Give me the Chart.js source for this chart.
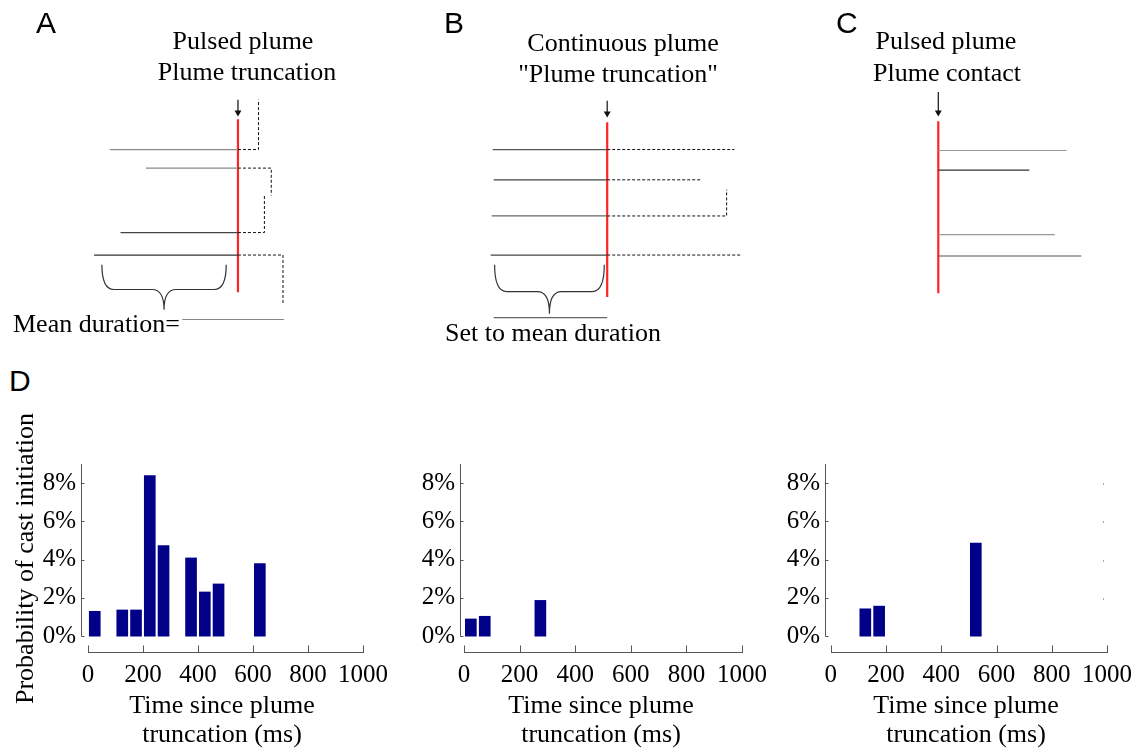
<!DOCTYPE html>
<html>
<head>
<meta charset="utf-8">
<script src="https://cdn.jsdelivr.net/npm/chart.js@4.4.1/dist/chart.umd.min.js"></script>
<style>
  body { margin: 0; background: #fff; }
  #fig { position: relative; width: 1144px; height: 752px; overflow: hidden; background: #fff; }
  canvas { position: absolute; }
  .lbl { position: absolute; font-family: "Liberation Serif", "Times New Roman", serif; font-size: 26px; line-height: 26px; white-space: nowrap; color: #000; }
  .ctr { transform: translateX(-50%); }
  .letter { position: absolute; font-family: "Liberation Sans", Arial, sans-serif; font-size: 30px; line-height: 30px; color: #000; }
</style>
</head>
<body>
<div id="fig">
  <canvas id="cA" width="380" height="345" style="left:0;top:0"></canvas>
  <canvas id="cB" width="380" height="345" style="left:380px;top:0"></canvas>
  <canvas id="cC" width="384" height="345" style="left:760px;top:0"></canvas>
  <canvas id="d1" width="400" height="352" style="left:0;top:400px"></canvas>
  <canvas id="d2" width="400" height="352" style="left:379px;top:400px"></canvas>
  <canvas id="d3" width="400" height="352" style="left:744px;top:400px"></canvas>

  <div class="letter" style="left:36px;top:8px">A</div>
  <div class="letter" style="left:444px;top:8px">B</div>
  <div class="letter" style="left:836px;top:8px">C</div>
  <div class="letter" style="left:9px;top:366px">D</div>

  <div class="lbl ctr" style="left:243px;top:28px">Pulsed plume</div>
  <div class="lbl ctr" style="left:247px;top:59px">Plume truncation</div>
  <div class="lbl" style="left:13px;top:311px">Mean duration=</div>

  <div class="lbl ctr" style="left:623px;top:30px">Continuous plume</div>
  <div class="lbl ctr" style="left:618px;top:61px">"Plume truncation"</div>
  <div class="lbl" style="left:445px;top:320px">Set to mean duration</div>

  <div class="lbl ctr" style="left:946px;top:28px">Pulsed plume</div>
  <div class="lbl ctr" style="left:947px;top:60px">Plume contact</div>
</div>

<script>
// ---- panel D: probability of cast initiation (%) per 50 ms bin ----
var binsTrunc = [25, 125, 175, 225, 275, 375, 425, 475, 625];
var probTrunc = [1.3, 1.37, 1.37, 8.4, 4.73, 4.09, 2.31, 2.73, 3.79];
var binsCont = [25, 75, 275];
var probCont = [0.9, 1.04, 1.87];
var binsContact = [125, 175, 525];
var probContact = [1.43, 1.57, 4.87];
var xTicks = [0, 200, 400, 600, 800, 1000];
var yTicks = [0, 2, 4, 6, 8];
var xTitle = ['Time since plume', 'truncation (ms)'];
var yTitle = 'Probability of cast initiation';

// ---- schematics: time relative to the event (t = 0), traces listed top to bottom ----
// A: pulsed plume, truncation
var rowsA = [149, 168, 234, 257];
var startA = [-131, -94, -120, -147];
var castEndA = [21, 34, 27, 46];
var castTurnA = [98, 196, 196, 308];
var meanA = [-57, 47];
var meanRowA = 323;
var redA = [118, 295];
var arrowA = [98, 114];
var braceA = { from: -139, to: -12, top: 267, tip: 313 };
// B: continuous plume, "truncation"
var rowsB = [149, 180, 217, 257];
var startB = [-117, -116, -118, -119];
var castEndB = [130, 95, 122, 138];
var castTurnB = [149, 180, 190, 257];
var meanB = [-116, 0];
var meanRowB = 321;
var redB = [121, 300];
var arrowB = [99, 115];
var braceB = { from: -115, to: -3, top: 267, tip: 317 };
// C: pulsed plume, contact
var rowsC = [150, 170, 236, 258];
var endC = [131, 93, 119, 146];
var redC = [120, 296];
var arrowC = [90, 114];

var greyA = ['#8a8a8a', '#8a8a8a', '#444', '#333'];
var greyB = ['#555', '#444', '#666', '#444'];
var greyC = ['#999', '#333', '#999', '#555'];

var serif = '"Liberation Serif", "Times New Roman", serif';
var tickFont = { family: serif, size: 25 };
var titleFont = { family: serif, size: 26, lineHeight: 1.12 };

var bracePlugin = {
  id: 'brace',
  afterDatasetsDraw: function (chart, args, opts) {
    if (opts.from === undefined) return;
    var xs = chart.scales.x, ys = chart.scales.y, ctx = chart.ctx;
    var x1 = xs.getPixelForValue(opts.from), x2 = xs.getPixelForValue(opts.to);
    var xm = (x1 + x2) / 2;
    var y0 = ys.getPixelForValue(opts.top), yt = ys.getPixelForValue(opts.tip);
    var d = (yt - y0) * 0.55, q = 12;
    ctx.save();
    ctx.strokeStyle = '#333';
    ctx.lineWidth = 1.2;
    ctx.beginPath();
    ctx.moveTo(x1, y0); ctx.quadraticCurveTo(x1, y0 + d, x1 + q, y0 + d);
    ctx.lineTo(xm - q, y0 + d); ctx.quadraticCurveTo(xm, y0 + d, xm, yt);
    ctx.moveTo(x2, y0); ctx.quadraticCurveTo(x2, y0 + d, x2 - q, y0 + d);
    ctx.lineTo(xm + q, y0 + d); ctx.quadraticCurveTo(xm, y0 + d, xm, yt);
    ctx.stroke();
    ctx.restore();
  }
};

// matlab-like axes: y line stops at 0, x line sits below with inward ticks
var axisPlugin = {
  id: 'matAxes',
  afterDraw: function (chart, args, opts) {
    if (!opts.on) return;
    var xs = chart.scales.x, ys = chart.scales.y, ctx = chart.ctx, a = chart.chartArea;
    ctx.save();
    ctx.strokeStyle = '#555';
    ctx.lineWidth = 1;
    ctx.beginPath();
    var lx = Math.round(a.left) + 0.5;
    var y0 = Math.round(ys.getPixelForValue(0)) + 0.5;
    ctx.moveTo(lx, a.top); ctx.lineTo(lx, y0);
    yTicks.forEach(function (v) {
      var y = Math.round(ys.getPixelForValue(v)) + 0.5;
      ctx.moveTo(lx, y); ctx.lineTo(lx + 3, y);
    });
    var by = Math.round(a.bottom) - 0.5;
    ctx.moveTo(Math.round(xs.getPixelForValue(0)), by);
    ctx.lineTo(Math.round(xs.getPixelForValue(1000)) + 1, by);
    xTicks.forEach(function (v) {
      var x = Math.round(xs.getPixelForValue(v)) + 0.5;
      ctx.moveTo(x, by); ctx.lineTo(x, by - 7);
    });
    ctx.stroke();
    if (opts.rightDots) {
      ctx.fillStyle = '#aaa';
      yTicks.slice(1).forEach(function (v) {
        ctx.fillRect(Math.round(xs.getPixelForValue(985)), Math.round(ys.getPixelForValue(v)), 1, 2);
      });
    }
    ctx.restore();
  }
};

Chart.register(bracePlugin, axisPlugin);

function seg(points, color, width, dash) {
  return { data: points, showLine: true, borderColor: color, borderWidth: width,
           borderDash: dash || [], pointRadius: 0, fill: false, tension: 0 };
}

function arrow(y) {
  return [
    seg([{ x: 0, y: y[0] }, { x: 0, y: y[1] - 3 }], '#111', 1.2),
    { data: [{ x: 0, y: y[1] - 3 }], showLine: false, pointStyle: 'triangle', rotation: 180,
      pointRadius: 4, backgroundColor: '#111', borderColor: '#111', borderWidth: 0 }
  ];
}

function schematic(id, xMin, xMax, datasets, brace) {
  return new Chart(document.getElementById(id), {
    type: 'scatter',
    data: { datasets: datasets },
    options: {
      responsive: false, animation: false, devicePixelRatio: 1,
      layout: { padding: 0 },
      plugins: { legend: { display: false }, tooltip: { enabled: false }, brace: brace || {} },
      scales: {
        x: { type: 'linear', display: false, min: xMin, max: xMax },
        y: { type: 'linear', display: false, min: 0, max: 345, reverse: true }
      }
    }
  });
}

// panel A
var dsA = [];
rowsA.forEach(function (r, i) {
  dsA.push(seg([{ x: startA[i], y: r }, { x: 0, y: r }], greyA[i], 1.2));
  dsA.push(seg([{ x: 0, y: r }, { x: castEndA[i], y: r }, { x: castEndA[i], y: castTurnA[i] }], '#111', 1, [3, 2]));
});
dsA.push(seg([{ x: meanA[0], y: meanRowA }, { x: meanA[1], y: meanRowA }], '#888', 1.2));
dsA.push(seg([{ x: 0, y: redA[0] }, { x: 0, y: redA[1] }], '#ff2424', 2.2));
dsA = dsA.concat(arrow(arrowA));
schematic('cA', -239, 141, dsA, braceA);

// panel B
var dsB = [];
rowsB.forEach(function (r, i) {
  dsB.push(seg([{ x: startB[i], y: r }, { x: 0, y: r }], greyB[i], 1.2));
  dsB.push(seg([{ x: 0, y: r }, { x: castEndB[i], y: r }, { x: castEndB[i], y: castTurnB[i] }], '#111', 1, [3, 2]));
});
dsB.push(seg([{ x: meanB[0], y: meanRowB }, { x: meanB[1], y: meanRowB }], '#666', 1.2));
dsB.push(seg([{ x: 0, y: redB[0] }, { x: 0, y: redB[1] }], '#ff2424', 2.2));
dsB = dsB.concat(arrow(arrowB));
schematic('cB', -228, 152, dsB, braceB);

// panel C
var dsC = [];
rowsC.forEach(function (r, i) {
  dsC.push(seg([{ x: 0, y: r }, { x: endC[i], y: r }], greyC[i], 1.2));
});
dsC.push(seg([{ x: 0, y: redC[0] }, { x: 0, y: redC[1] }], '#ff2424', 2.2));
dsC = dsC.concat(arrow(arrowC));
schematic('cC', -178, 206, dsC);

// panel D histograms
function histChart(id, bins, probs, xMin, showYTitle, rightDots) {
  return new Chart(document.getElementById(id), {
    type: 'bar',
    data: {
      datasets: [{
        data: bins.map(function (b, i) { return { x: b, y: probs[i] }; }),
        backgroundColor: '#000088', borderWidth: 0, barThickness: 11
      }]
    },
    options: {
      responsive: false, animation: false, devicePixelRatio: 1,
      layout: { padding: { top: 64, right: 37, left: 0, bottom: 0 } },
      plugins: { legend: { display: false }, tooltip: { enabled: false },
                 matAxes: { on: true, rightDots: rightDots } },
      scales: {
        x: {
          type: 'linear', min: xMin, max: 1000, offset: false,
          grid: { display: false, drawTicks: false }, border: { display: false },
          afterBuildTicks: function (s) { s.ticks = xTicks.map(function (v) { return { value: v }; }); },
          afterFit: function (s) { s.height = 99; },
          ticks: { font: tickFont, color: '#000', padding: 7, maxRotation: 0, autoSkip: false,
                   callback: function (v) { return String(v); } },
          title: { display: true, text: xTitle, font: titleFont, color: '#000', padding: { top: 0, bottom: 2 } }
        },
        y: {
          type: 'linear', min: -0.88, max: 9,
          grid: { display: false, drawTicks: false }, border: { display: false },
          afterBuildTicks: function (s) { s.ticks = yTicks.map(function (v) { return { value: v }; }); },
          afterFit: function (s) { s.width = 81; },
          ticks: { font: tickFont, color: '#000', padding: 5, callback: function (v) { return v + '%'; } },
          title: { display: showYTitle, text: yTitle, font: titleFont, color: '#000', padding: { top: 12, bottom: 0 } }
        }
      }
    }
  });
}

histChart('d1', binsTrunc, probTrunc, -25, true, false);
histChart('d2', binsCont, probCont, -14, false, false);
histChart('d3', binsContact, probContact, -21, false, true);
</script>
</body>
</html>
